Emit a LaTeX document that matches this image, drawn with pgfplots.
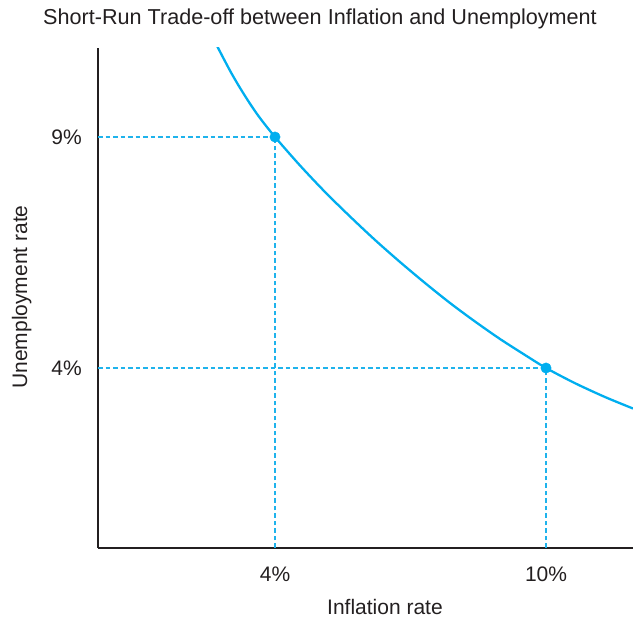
\documentclass[border=0pt]{standalone}
\usepackage{pgfplots}
\pgfplotsset{compat=1.18}
\usepackage{fontspec}
\setmainfont{Liberation Sans}
\definecolor{curvecol}{HTML}{00AEEF}
\definecolor{dashcol}{HTML}{1FB3EC}
\definecolor{ink}{HTML}{231F20}
\newcommand{\chartfont}{\fontsize{21bp}{25bp}\selectfont}
\begin{document}
\begin{tikzpicture}
\useasboundingbox (0,0) rectangle (633bp,620bp);
\begin{axis}[
  at={(98bp,72bp)}, anchor=south west,
  scale only axis, width=535bp, height=500bp,
  xmin=0.081, xmax=11.926, ymin=0.104, ymax=10.926,
  axis lines=left,
  axis line style={-, line width=2.4bp, color=ink},
  major tick length=0pt,
  xtick={4,10}, xticklabels={4\%,10\%},
  ytick={4,9}, yticklabels={4\%,9\%},
  every tick label/.append style={font=\chartfont, text=ink, inner sep=0pt},
  xticklabel style={anchor=north, yshift=-19bp},
  yticklabel style={anchor=east, xshift=-16bp},
  clip=true,
]
% dashed guide lines
\addplot[dashcol, line width=1.3bp, dash pattern=on 4.5bp off 3bp] coordinates {(0.081,9) (4,9)};
\addplot[dashcol, line width=1.3bp, dash pattern=on 4.5bp off 3bp] coordinates {(4,0.104) (4,9)};
\addplot[dashcol, line width=1.3bp, dash pattern=on 4.5bp off 3bp] coordinates {(0.081,4) (10,4)};
\addplot[dashcol, line width=1.3bp, dash pattern=on 4.5bp off 3bp] coordinates {(10,0.104) (10,4)};
% short-run Phillips curve
\addplot[curvecol, line width=2.3bp, smooth] coordinates {
  (2.672,11.054) (3.004,10.435) (3.225,10.063) (3.4465,9.720) (3.668,9.409)
  (4,9) (4.5535,8.383) (5.107,7.810) (5.6605,7.279) (6.214,6.771)
  (6.7675,6.294) (7.321,5.840) (7.8745,5.407) (8.428,5.006) (8.9815,4.628)
  (9.535,4.281) (10,4) (10.642,3.671) (11.306,3.372) (11.926,3.123)
};
\addplot[only marks, mark=*, mark size=5.2bp, curvecol] coordinates {(4,9) (10,4)};
\end{axis}
\node[anchor=base, text=ink, font=\fontsize{21.6bp}{26bp}\selectfont] at (320bp,595bp) {Short-Run Trade-off between Inflation and Unemployment};
\node[anchor=base, text=ink, font=\chartfont] at (385bp,6bp) {Inflation rate};
\node[anchor=base, rotate=90, text=ink, font=\chartfont] at (27bp,323bp) {Unemployment rate};
\end{tikzpicture}
\end{document}
